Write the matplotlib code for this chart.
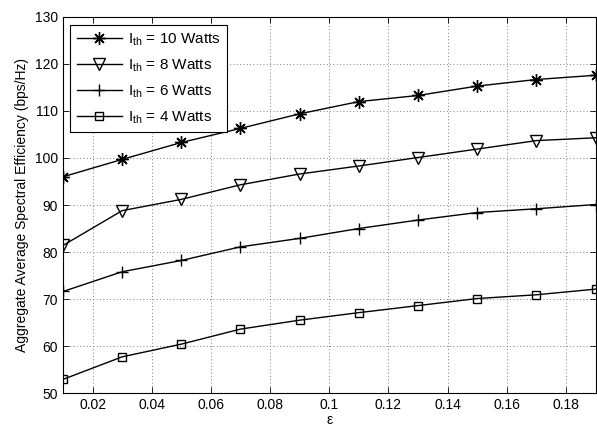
import matplotlib
matplotlib.use('Agg')
import matplotlib.pyplot as plt

plt.rcParams['font.family'] = ['Liberation Sans', 'DejaVu Sans']
plt.rcParams['mathtext.fontset'] = 'custom'
plt.rcParams['mathtext.rm'] = 'Liberation Sans'

# epsilon values on the x axis
eps = [0.01, 0.03, 0.05, 0.07, 0.09, 0.11, 0.13, 0.15, 0.17, 0.19]

# aggregate average spectral efficiency (bps/Hz) per interference threshold
se_10w = [96.0, 99.7, 103.3, 106.3, 109.4, 112.0, 113.3, 115.3, 116.7, 117.6]
se_8w = [81.4, 88.8, 91.2, 94.3, 96.6, 98.3, 100.1, 101.9, 103.7, 104.3]
se_6w = [71.6, 75.8, 78.2, 81.1, 82.9, 85.0, 86.8, 88.4, 89.2, 90.1]
se_4w = [52.9, 57.7, 60.4, 63.6, 65.5, 67.1, 68.6, 70.1, 70.9, 72.1]

labels = [r'I$_{\mathrm{th}}$ = 10 Watts', r'I$_{\mathrm{th}}$ = 8 Watts',
          r'I$_{\mathrm{th}}$ = 6 Watts', r'I$_{\mathrm{th}}$ = 4 Watts']

xticks = [0.02, 0.04, 0.06, 0.08, 0.1, 0.12, 0.14, 0.16, 0.18]
xtick_labels = ['0.02', '0.04', '0.06', '0.08', '0.1', '0.12', '0.14', '0.16', '0.18']
yticks = [50, 60, 70, 80, 90, 100, 110, 120, 130]

fig = plt.figure(figsize=(5.97, 4.30), dpi=100)
ax = fig.add_axes([0.1055, 0.086, 0.892, 0.8745])

# MATLAB-style asterisk: 8 spokes
ax.plot(eps, se_10w, '-', color='k', lw=1.0, marker=(8, 2, 0), ms=9, mew=1.0, label=labels[0])
ax.plot(eps, se_8w, '-', color='k', lw=1.0, marker='v', ms=8, mfc='none', mew=1.0, label=labels[1])
ax.plot(eps, se_6w, '-', color='k', lw=1.0, marker='+', ms=9, mew=1.0, label=labels[2])
ax.plot(eps, se_4w, '-', color='k', lw=1.0, marker='s', ms=6, mfc='none', mew=1.0, label=labels[3])

ax.set_xlim(0.01, 0.19)
ax.set_ylim(50, 130)
ax.set_xticks(xticks)
ax.set_xticklabels(xtick_labels)
ax.set_yticks(yticks)
ax.tick_params(direction='in', top=True, right=True, labelsize=10, length=4, width=0.6)
ax.grid(True, linestyle=(0, (1, 3)), color='#555555', linewidth=0.6)
for s in ax.spines.values():
    s.set_linewidth(0.8)

ax.set_xlabel('ε', fontsize=10, labelpad=1)
ax.set_ylabel('Aggregate Average Spectral Efficiency (bps/Hz)', fontsize=10, labelpad=4)

leg = ax.legend(loc='upper left', fontsize=11, fancybox=False, framealpha=1,
                edgecolor='k', handlelength=2.95, handletextpad=0.45, borderpad=0.4,
                labelspacing=0.6, borderaxespad=0, bbox_to_anchor=(0.014, 0.978))
leg.get_frame().set_linewidth(0.8)

fig.savefig('out.png', dpi=100)
